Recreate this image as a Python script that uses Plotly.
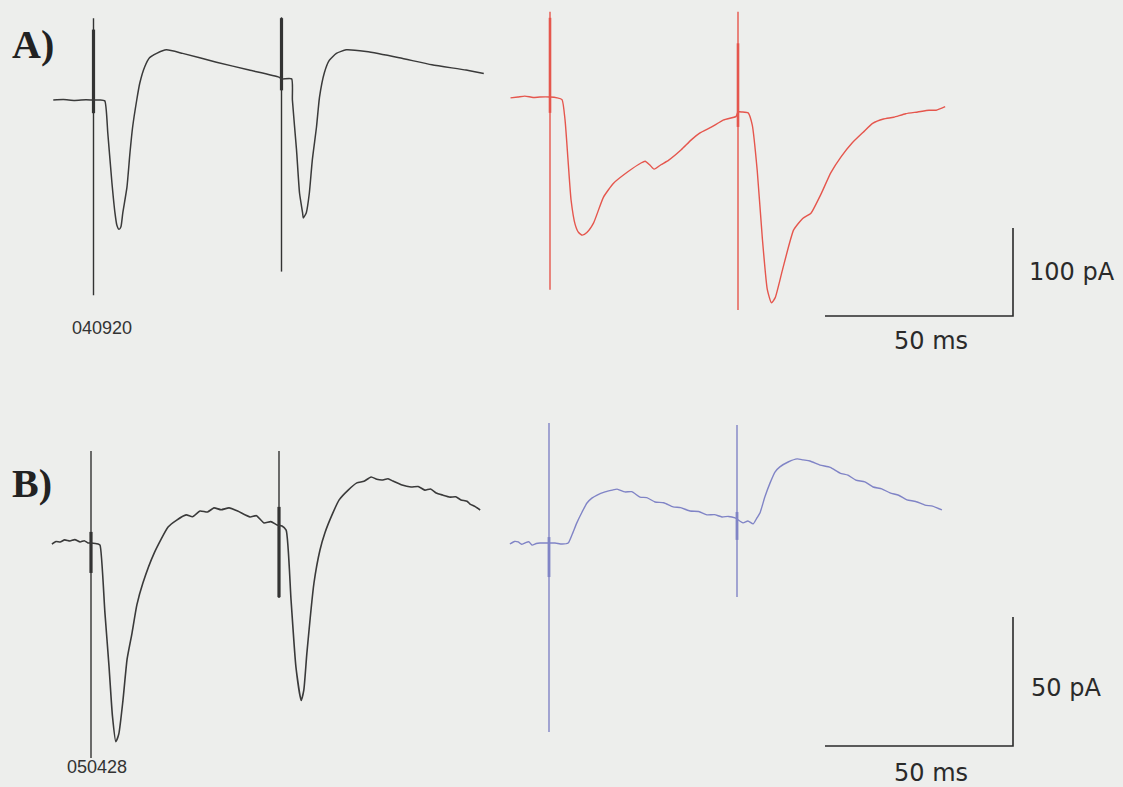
import plotly.graph_objects as go

W, H = 1123, 787
BG = "#EDEEEC"

# ---------------- data (time in ms from 1st stimulus, current in pA) ----------------
# Panel A, control (040920)
a_ctrl_t = [-10.7, -8.0, -5.0, -2.0, 0.0, 1.7, 3.0, 3.8, 4.9, 5.7, 6.2, 6.8, 7.3, 7.8, 8.9, 9.7, 10.4,
            11.5, 12.3, 13.6, 14.9, 16.8, 19.4, 23.7, 32.7, 41.4, 49.3, 50.0, 52.7, 52.9, 54.0, 54.8,
            55.6, 55.8, 56.6, 57.4, 58.2, 59.3, 60.1, 61.4, 62.7, 64.6, 67.2, 72.5, 81.3, 90.0, 99.1, 103.8]
a_ctrl_i = [0.0, 0.5, -0.5, 0.3, 0.0, 0.0, -1.0, -37.5, -94, -128, -142, -147, -144, -128, -99, -60, -31,
            0, 19, 37.5, 48, 53, 57, 53, 43, 34, 26, 24, 24, 0, -57, -106,
            -128, -134, -128, -106, -68, -31, 3, 31, 45, 53, 57, 55, 48, 40, 34, 30]

# Panel A, drug (red)
a_drug_t = [-10.5, -8.5, -6.7, -4.5, -2.7, 0.0, 1.9, 3.2, 4.0, 4.8, 5.6, 6.7, 7.6, 8.6, 9.8, 11.6, 14.2,
            16.9, 20.7, 24.2, 25.3, 26.5, 27.7, 29.5, 31.5, 34.9, 37.5, 39.8, 43.0, 46.2, 49.5, 50.0, 51.1,
            52.7, 53.8, 55.1, 56.5, 57.8, 58.9, 59.9, 61.8, 64.8, 67.2, 69.4, 72.0, 74.7, 77.4, 80.4,
            83.3, 85.8, 88.7, 91.4, 94.6, 97.8, 100.8, 102.7, 105.1]
a_drug_i = [-1, 0, 1, -0.5, 0, 0, -1, -3, -26, -72, -117, -145, -154, -157, -154, -143, -114,
            -98, -85, -75, -73, -77, -82, -77, -72, -60, -49, -41, -34, -26, -22, -17, -17,
            -18, -32, -83, -162, -219, -234, -228, -197, -151, -138, -132, -111, -86, -68, -52,
            -40, -30, -25, -23, -19, -17, -15, -15, -11]

# Panel B, control (050428)
b_ctrl_t = [-10.4, -9.3, -8.2, -7.0, -5.6, -4.3, -2.9, -1.8, -0.8, 0.0, 1.9, 2.4, 3.7, 4.8, 5.7, 6.6, 7.4,
            8.5, 9.6, 10.9, 12.2, 13.8, 16.8, 20.5, 22.8, 25.3, 27.0, 29.0, 31.0, 32.7, 34.6, 36.7, 39.0,
            42.3, 44.0, 46.0, 47.8, 49.5, 50.8, 51.9, 53.2, 54.5, 55.9, 56.6, 57.4, 59.3, 60.9, 62.2,
            64.1, 66.0, 68.4, 70.7, 72.6, 74.5, 76.0, 77.4, 79.0, 80.3, 82.5, 85.1, 87.0, 88.8, 90.3,
            91.8, 93.5, 95.5, 97.0, 98.4, 100.0, 100.8, 102.2, 103.5]
b_ctrl_i = [-0.4, 0.6, 0.4, 1.2, 0.8, 1.3, 0.4, 0.9, 0.0, 0.0, -0.4, -0.8, -27, -48, -67, -77, -74,
            -61, -45, -35, -24, -15.5, -3.9, 6.2, 8.9, 10.9, 10.2, 12.4, 12.0, 13.6, 12.9, 13.6, 12.4,
            10.1, 10.6, 7.8, 8.3, 7.0, 6.6, 5.0, -22, -48, -61, -57, -43, -15.5, -2.7, 3.9,
            10.9, 16.7, 20.5, 23.3, 23.9, 25.6, 24.7, 24.4, 24.9, 24.0, 22.6, 21.7, 21.9, 20.5, 20.9,
            19.4, 18.6, 17.8, 17.9, 16.7, 16.2, 15.1, 14.1, 12.8]

# Panel B, drug (blue)
b_drug_t = [-10.4, -9.2, -8.2, -7.3, -6.4, -5.4, -4.5, -3.4, -2.4, 0.0, 1.6, 3.5, 5.1, 6.1, 7.4, 8.8,
            10.1, 11.4, 12.8, 14.9, 16.8, 18.1, 20.2, 22.0, 24.2, 26.0, 28.2, 30.5, 33.0, 35.0, 37.5,
            39.8, 42.0, 44.0, 46.0, 47.7, 49.5, 51.6, 52.9, 54.3, 55.3, 56.1, 57.4, 58.8, 60.1, 61.4,
            63.6, 66.0, 67.6, 69.4, 72.1, 74.8, 77.4, 79.5, 81.6, 84.0, 86.2, 88.5, 90.7, 93.0, 95.2,
            97.5, 100.0, 102.0, 104.5]
b_drug_i = [-0.4, 0.6, 0.4, -0.5, 0.0, 0.5, -0.8, -0.2, 0.0, 0.0, 0.0, -0.4, 0.0, 3.1, 7.8, 12.0,
            15.5, 17.4, 18.6, 19.8, 20.5, 20.9, 19.8, 19.9, 17.8, 17.6, 15.9, 15.6, 14.0, 13.7, 12.4,
            12.2, 10.9, 11.0, 10.1, 10.3, 9.7, 7.8, 8.5, 7.4, 9.7, 11.6, 17.8, 23.3, 27.5, 29.5,
            31.4, 32.6, 32.2, 31.8, 30.2, 29.3, 27.1, 26.3, 24.4, 23.7, 21.7, 21.0, 19.4, 18.5, 16.7,
            16.1, 14.7, 14.3, 12.8]

# Stimulus artifacts: times (ms) and [top, bottom] extents (pA); dense core [top, bottom]
stim_times = [0.0, 50.0]
a_ctrl_art = [(93, -222), (94, -195)]
a_ctrl_core = [(80, -15), (93, 11)]
a_drug_art = [(97, -219), (97, -242)]
a_drug_core = [(90, -18), (61, -34)]
b_ctrl_art = [(35.7, -83.3), (35.7, -21.3)]
b_ctrl_core = [(4.3, -11.6), (14.0, -21.0)]
b_drug_art = [(46.5, -73.3), (45.7, -20.9)]
b_drug_core = [(2.3, -13.2), (12.0, 1.2)]

# Calibration bars
scale_a = (50, 100)   # ms, pA
scale_b = (50, 50)    # ms, pA
labels = {"A": "A)", "B": "B)"}
cell_ids = ["040920", "050428"]

# ---------------- layout helpers (pixel placement of each recording) ----------------
PX_MS = 3.76


def ranges(x0, y0, px_pa):
    return [-x0 / PX_MS, (W - x0) / PX_MS], [(y0 - H) / px_pa, y0 / px_pa]


def inv(x_px, y_px, x0, y0, px_pa):
    return (x_px - x0) / PX_MS, (y0 - y_px) / px_pa


panels = {
    # name: (x0 px of stim1, y0 px of baseline, px per pA)
    "1": (93.5, 100, 0.88),
    "2": (550, 97, 0.88),
    "3": (91, 543, 2.58),
    "4": (549, 543, 2.58),
}

fig = go.Figure()

BLACK = "#3a3a3a"
RED = "#E5564D"
BLUE = "#8084C6"


def add_trace(n, t, i, color, width, shape="linear"):
    fig.add_trace(go.Scatter(x=t, y=i, mode="lines",
                             line=dict(color=color, width=width, shape=shape,
                                       smoothing=0.5 if shape == "spline" else None),
                             xaxis="x" + ("" if n == "1" else n), yaxis="y" + ("" if n == "1" else n),
                             hoverinfo="skip", showlegend=False))


def add_art(n, art, core, color, cw):
    for t, (top, bot) in zip(stim_times, art):
        add_trace(n, [t, t], [top, bot], color, 1.4)
    for t, (top, bot) in zip(stim_times, core):
        add_trace(n, [t, t], [top, bot], color, cw)


add_art("1", a_ctrl_art, a_ctrl_core, "#333333", 3.2)
add_trace("1", a_ctrl_t, a_ctrl_i, BLACK, 1.5, "spline")
add_art("2", a_drug_art, a_drug_core, RED, 2.6)
add_trace("2", a_drug_t, a_drug_i, RED, 1.4, "spline")
add_art("3", b_ctrl_art, b_ctrl_core, "#333333", 3.2)
add_trace("3", b_ctrl_t, b_ctrl_i, BLACK, 1.6, "spline")
add_art("4", b_drug_art, b_drug_core, BLUE, 2.8)
add_trace("4", b_drug_t, b_drug_i, BLUE, 1.4, "spline")

# Calibration bars (corner placed at pixel positions, lengths from data)
cx, cy = inv(1013, 316, *panels["2"])
add_trace("2", [cx - scale_a[0], cx, cx], [cy, cy, cy + scale_a[1]], "#2a2a2a", 1.6)
cx, cy = inv(1013, 746, *panels["4"])
add_trace("4", [cx - scale_b[0], cx, cx], [cy, cy, cy + scale_b[1]], "#2a2a2a", 1.6)

layout = dict(width=W, height=H, autosize=False, margin=dict(l=0, r=0, t=0, b=0),
              paper_bgcolor=BG, plot_bgcolor="rgba(0,0,0,0)", showlegend=False)
for n, (x0, y0, s) in panels.items():
    xr, yr = ranges(x0, y0, s)
    xk = "xaxis" if n == "1" else "xaxis" + n
    yk = "yaxis" if n == "1" else "yaxis" + n
    xa = dict(range=xr, visible=False, domain=[0, 1], fixedrange=True,
              anchor="y" if n == "1" else "y" + n)
    ya = dict(range=yr, visible=False, domain=[0, 1], fixedrange=True,
              anchor="x" if n == "1" else "x" + n)
    if n != "1":
        xa["overlaying"] = "x"
        ya["overlaying"] = "y"
    layout[xk] = xa
    layout[yk] = ya
fig.update_layout(**layout)


def ann(text, x_px, y_px, size, family, color="#2a2a2a", bold=False, xanchor="left"):
    fig.add_annotation(text=("<b>%s</b>" % text) if bold else text, x=x_px / W, y=1 - y_px / H,
                       xref="paper", yref="paper", xanchor=xanchor, yanchor="middle",
                       showarrow=False, font=dict(size=size, family=family, color=color))


ann(labels["A"], 10, 44, 40, "Liberation Serif", "#222222", bold=True)
ann(labels["B"], 10, 484, 40, "Liberation Serif", "#222222", bold=True)
ann(cell_ids[0], 70, 328, 18, "Liberation Sans", "#333333")
ann(cell_ids[1], 65, 767, 18, "Liberation Sans", "#333333")
ann("%d pA" % scale_a[1], 1027, 272, 24, "DejaVu Sans")
ann("%d ms" % scale_a[0], 931, 341, 24, "DejaVu Sans", xanchor="center")
ann("%d pA" % scale_b[1], 1029, 688, 24, "DejaVu Sans")
ann("%d ms" % scale_b[0], 931, 773, 24, "DejaVu Sans", xanchor="center")

fig.write_html(
    "out.html",
    config={"displayModeBar": False},
    post_script="document.body.style.margin='0';document.body.style.overflow='hidden';"
                "document.body.style.background='" + BG + "';",
)
